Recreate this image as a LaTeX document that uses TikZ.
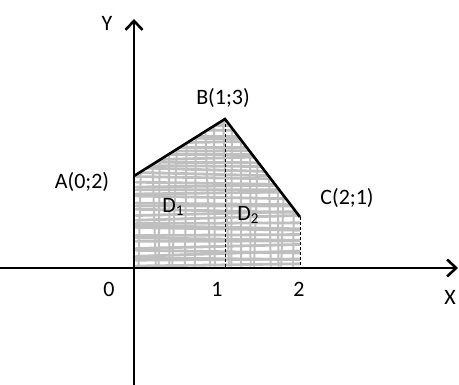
\documentclass[tikz,border=0pt]{standalone}
\usepackage{fontspec}
\setmainfont{Carlito}
\usetikzlibrary{arrows.meta}

\newcommand{\subidx}[1]{\raisebox{-0.25ex}{\fontsize{15}{15}\selectfont #1}}

\begin{document}
\begin{tikzpicture}[
    x=1pt, y=-1pt,
    font=\fontsize{22}{26}\selectfont,
    axis/.style={line width=2.6pt, -{Straight Barb[length=9pt,width=17pt,line width=2.6pt]}},
    edge/.style={line width=2.6pt, line join=miter},
    guide/.style={densely dashed, line width=0.8pt},
    scribble/.style={line width=2.8pt, gray!50, line cap=round},
    lbl/.style={inner sep=0pt}
]
\useasboundingbox (0,0) rectangle (459,385);
\pgfmathsetseed{7}

% Points
\coordinate (O) at (134,268);
\coordinate (A) at (134,176);
\coordinate (B) at (225,119);
\coordinate (C) at (300,217);
\coordinate (Bx) at (225,268);
\coordinate (Cx) at (300,268);

% Shaded region
\begin{scope}
  \clip (A) -- (B) -- (C) -- ([yshift=-4pt]Cx) -- ([yshift=-4pt]O) -- cycle;
  \foreach \y in {122,126,...,266} {
    \pgfmathsetmacro{\da}{3*rand}
    \pgfmathsetmacro{\db}{3*rand}
    \draw[scribble] (136,\y+\da) -- (300,\y+\db);
  }
  \foreach \x in {142,151,...,296} {
    \pgfmathsetmacro{\dx}{6*rand}
    \draw[scribble, line width=2pt] (\x,120) -- (\x+\dx,266);
  }
\end{scope}

% Axes
\coordinate (xs) at (0,268);
\coordinate (xe) at (458,268);
\coordinate (ys) at (134,385);
\coordinate (ye) at (134,19);
\draw[axis] (xs) -- (xe);
\draw[axis] (ys) -- (ye);

% Boundary
\draw[edge] (A) -- (B) -- (C);
\draw[guide] (B) -- (Bx);
\draw[guide] (C) -- (Cx);

% Labels
\node[lbl] (lY) at (107,23) {Y};
\node[lbl] (lX) at (450,297) {X};
\node[lbl] (lA) at (82,182) {A(0;2)};
\node[lbl] (lB) at (223,98) {B(1;3)};
\node[lbl] (lC) at (347,198) {C(2;1)};
\node[lbl] (lD1) at (173,207) {D\subidx{1}};
\node[lbl] (lD2) at (248,215) {D\subidx{2}};
\node[lbl] (t0) at (109,289) {0};
\node[lbl] (t1) at (217,289) {1};
\node[lbl] (t2) at (299,289) {2};

\end{tikzpicture}
\end{document}
